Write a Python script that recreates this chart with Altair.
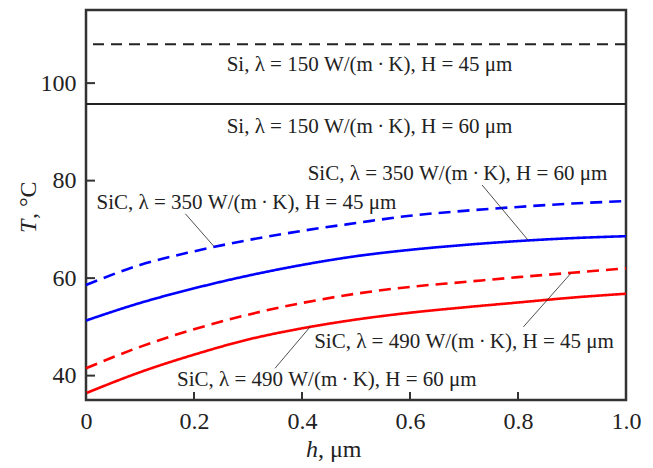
import altair as alt
import pandas as pd

# ---- data ----
h_vals = [0.0, 0.1, 0.2, 0.3, 0.4, 0.5, 0.6, 0.7, 0.8, 0.9, 1.0]
T_sic350_h45 = [58.6, 62.7, 65.5, 67.8, 69.7, 71.3, 72.8, 73.8, 74.6, 75.3, 75.8]
T_sic350_h60 = [51.3, 54.9, 57.9, 60.5, 62.7, 64.5, 65.8, 66.8, 67.6, 68.2, 68.6]
T_sic490_h45 = [41.5, 45.9, 49.5, 52.5, 54.9, 56.8, 58.2, 59.2, 60.2, 61.1, 62.0]
T_sic490_h60 = [36.4, 40.7, 44.3, 47.4, 49.7, 51.5, 52.9, 54.0, 55.0, 56.0, 56.8]
si_h45_level = [108.0]
si_h60_level = [95.7]

series_names = ["SiC350_45", "SiC350_60", "SiC490_45", "SiC490_60"]
series_colors = ["#0000ff", "#0000ff", "#ff0000", "#ff0000"]
series_dash = [[12, 7], [1, 0], [12, 7], [1, 0]]

x_ticks = [0.0, 0.2, 0.4, 0.6, 0.8, 1.0]
y_ticks = [40, 60, 80, 100]

label_texts = [
    "Si, λ = 150 W/(m\u2009·\u2009K), H = 45 μm",
    "Si, λ = 150 W/(m\u2009·\u2009K), H = 60 μm",
    "SiC, λ = 350 W/(m\u2009·\u2009K), H = 45 μm",
    "SiC, λ = 350 W/(m\u2009·\u2009K), H = 60 μm",
    "SiC, λ = 490 W/(m\u2009·\u2009K), H = 45 μm",
    "SiC, λ = 490 W/(m\u2009·\u2009K), H = 60 μm",
]
label_h = [0.525, 0.525, 0.297, 0.688, 0.700, 0.446]
label_T = [103.7, 91.1, 75.5, 81.4, 47.0, 39.2]

leader_h1 = [0.184, 0.7335, 0.810, 0.350]
leader_T1 = [73.2, 79.1, 50.0, 41.5]
leader_h2 = [0.237, 0.8186, 0.898, 0.415]
leader_T2 = [66.5, 67.8, 61.0, 50.0]

# ---- tables ----
series_values = [T_sic350_h45, T_sic350_h60, T_sic490_h45, T_sic490_h60]
rows = []
for name, vals in zip(series_names, series_values):
    for h, t in zip(h_vals, vals):
        rows.append({"series": name, "h": h, "T": t})
curves = pd.DataFrame(rows)

labels = pd.DataFrame({"h": label_h, "T": label_T, "text": label_texts})
leaders = pd.DataFrame({"h": leader_h1, "T": leader_T1, "h2": leader_h2, "T2": leader_T2})
xt = pd.DataFrame({"h": x_ticks})
yt = pd.DataFrame({"T": y_ticks})

FONT = "Liberation Serif"
INK = "#222222"

xscale = alt.Scale(domain=[0, 1], nice=False, zero=False)
yscale = alt.Scale(domain=[35, 115], nice=False, zero=False)
xaxis = alt.Axis(values=x_ticks, ticks=False, domain=False, grid=False,
                 labelFontSize=24, labelColor=INK, labelFont=FONT,
                 labelPadding=9, labelFlush=False, labelOverlap=False,
                 labelExpr="datum.value == 0 ? '0' : format(datum.value, '.1f')",
                 title=None)
yaxis = alt.Axis(values=y_ticks, ticks=False, domain=False, grid=False,
                 labelFontSize=24, labelColor=INK, labelFont=FONT,
                 labelPadding=10, labelOverlap=False, title=None)

X = alt.X("h:Q", scale=xscale, axis=xaxis)
Y = alt.Y("T:Q", scale=yscale, axis=yaxis)

lines = alt.Chart(curves).mark_line(strokeWidth=2.6, interpolate="monotone").encode(
    x=X, y=Y,
    color=alt.Color("series:N", scale=alt.Scale(domain=series_names, range=series_colors), legend=None),
    strokeDash=alt.StrokeDash("series:N", scale=alt.Scale(domain=series_names, range=series_dash), legend=None),
    detail="series:N",
)

si45 = alt.Chart(pd.DataFrame({"T": si_h45_level})).mark_rule(
    color=INK, strokeWidth=2, strokeDash=[11, 7]).encode(y=Y)
si60 = alt.Chart(pd.DataFrame({"T": si_h60_level})).mark_rule(
    color=INK, strokeWidth=2).encode(y=Y)

lead = alt.Chart(leaders).mark_rule(color=INK, strokeWidth=0.8).encode(
    x=X, y=Y, x2="h2:Q", y2="T2:Q")

txt = alt.Chart(labels).mark_text(font=FONT, fontSize=21, color=INK,
                                  align="center", baseline="middle").encode(
    x=X, y=Y, text="text:N")

ytick_marks = alt.Chart(yt).mark_rule(color="#333333", strokeWidth=2).encode(
    y=Y, x=alt.value(0), x2=alt.value(9))
xtick_marks = alt.Chart(xt).mark_rule(color="#333333", strokeWidth=2).encode(
    x=X, y=alt.value(390), y2=alt.value(382))

# axis titles with italic variable symbol
xt1 = alt.Chart(pd.DataFrame({"t": ["h"]})).mark_text(
    font=FONT, fontSize=24, fontStyle="italic", color=INK, align="left", baseline="alphabetic"
).encode(text="t:N", x=alt.value(220), y=alt.value(447))
xt2 = alt.Chart(pd.DataFrame({"t": [", μm"]})).mark_text(
    font=FONT, fontSize=24, color=INK, align="left", baseline="alphabetic"
).encode(text="t:N", x=alt.value(232), y=alt.value(447))
yt1 = alt.Chart(pd.DataFrame({"t": ["T"]})).mark_text(
    font=FONT, fontSize=24, fontStyle="italic", color=INK, align="left", baseline="alphabetic", angle=270
).encode(text="t:N", x=alt.value(-50), y=alt.value(223))
yt2 = alt.Chart(pd.DataFrame({"t": [", °C"]})).mark_text(
    font=FONT, fontSize=24, color=INK, align="left", baseline="alphabetic", angle=270
).encode(text="t:N", x=alt.value(-50), y=alt.value(209))

chart = alt.layer(si45, si60, lines, lead, txt, ytick_marks, xtick_marks, xt1, xt2, yt1, yt2).properties(
    width=540, height=390,
    autosize=alt.AutoSizeParams(type="none"),
    padding={"left": 78, "top": 2, "right": 19, "bottom": 66},
    background="white",
).configure_view(stroke="#333333", strokeWidth=2.5).configure_text(font=FONT)

chart.save("out.html", embed_options={"renderer": "svg", "actions": False})
